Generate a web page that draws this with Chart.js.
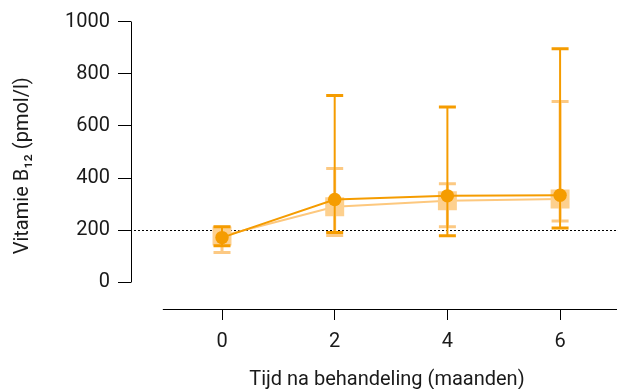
<!DOCTYPE html>
<html><head><meta charset="utf-8">
<style>html,body{margin:0;padding:0;background:#fff;overflow:hidden}canvas{display:block}</style>
<script src="https://cdn.jsdelivr.net/npm/chart.js@4.4.0/dist/chart.umd.min.js"></script>
</head><body><canvas id="c" width="617" height="389" style="width:617px;height:389px"></canvas>
<script>
const months = [0, 2, 4, 6];
const darkMean = [172, 318, 332, 334];
const darkLow = [141, 192, 179, 209];
const darkHigh = [214, 716, 672, 896];
const lightMean = [178, 290, 313, 320];
const lightLow = [115, 180, 214, 236];
const lightHigh = [212, 437, 378, 693];
const yTicks = [0, 200, 400, 600, 800, 1000];
const xTicks = [0, 2, 4, 6];
const refLine = 200;
const xTitle = 'Tijd na behandeling (maanden)';

const DARK = '#f59c00';
const LIGHT_FILL = '#fdd08e';
const LIGHT_LINE = '#fdc87e';
const LIGHT_ERR = '#fcc983';

Chart.defaults.font.family = 'Roboto';
Chart.defaults.font.size = 20;
Chart.defaults.color = '#1a1a1a';

const errorBars = {
  id: 'errorBars',
  beforeDatasetDraw(chart, args) {
    const ds = chart.data.datasets[args.index];
    if (!ds.errLow) return;
    const ctx = chart.ctx, xs = chart.scales.x, ys = chart.scales.y;
    ctx.save();
    ctx.strokeStyle = ds.errColor;
    months.forEach((m, i) => {
      const px = xs.getPixelForValue(m);
      const yl = ys.getPixelForValue(ds.errLow[i]);
      const yh = ys.getPixelForValue(ds.errHigh[i]);
      ctx.lineWidth = ds.errLineWidth;
      ctx.beginPath(); ctx.moveTo(px, yl); ctx.lineTo(px, yh); ctx.stroke();
      ctx.lineWidth = 3;
      ctx.beginPath();
      ctx.moveTo(px - 8.5, yl); ctx.lineTo(px + 8.5, yl);
      ctx.moveTo(px - 8.5, yh); ctx.lineTo(px + 8.5, yh);
      ctx.stroke();
    });
    ctx.restore();
  }
};

const axesAndRef = {
  id: 'axesAndRef',
  beforeDatasetsDraw(chart) {
    const ctx = chart.ctx, xs = chart.scales.x, ys = chart.scales.y, a = chart.chartArea;
    ctx.save();
    ctx.strokeStyle = '#000';
    ctx.lineWidth = 1;
    ctx.setLineDash([2, 2]);
    const ry = Math.round(ys.getPixelForValue(refLine)) + 0.5;
    ctx.beginPath(); ctx.moveTo(a.left + 3, ry); ctx.lineTo(chart.width, ry); ctx.stroke();
    ctx.setLineDash([]);
    const ax = Math.round(a.left) + 0.5;
    ctx.beginPath();
    ctx.moveTo(ax, ys.getPixelForValue(yTicks[0]));
    ctx.lineTo(ax, ys.getPixelForValue(yTicks[yTicks.length - 1]));
    ctx.stroke();
    const ay = Math.round(a.bottom) - 0.5;
    const x0 = xs.getPixelForValue(-1.05);
    ctx.beginPath();
    ctx.moveTo(x0, ay);
    ctx.lineTo(chart.width, ay);
    ctx.stroke();
    ctx.fillStyle = '#1a1a1a';
    ctx.font = '20px Roboto';
    ctx.textAlign = 'center';
    ctx.textBaseline = 'alphabetic';
    ctx.fillText(xTitle, (x0 + chart.width) / 2 - 3, 385);
    ctx.restore();
  }
};

new Chart(document.getElementById('c'), {
  type: 'line',
  data: {
    datasets: [
      {
        data: months.map((m, i) => ({x: m, y: darkMean[i]})),
        borderColor: DARK, backgroundColor: DARK, borderWidth: 2,
        pointStyle: 'circle', pointRadius: 6.7, pointBorderWidth: 0,
        pointBackgroundColor: DARK,
        errLow: darkLow, errHigh: darkHigh, errColor: DARK, errLineWidth: 2
      },
      {
        data: months.map((m, i) => ({x: m, y: lightMean[i]})),
        borderColor: LIGHT_LINE, backgroundColor: LIGHT_FILL, borderWidth: 2,
        pointStyle: 'rect', pointRadius: 13.4, pointBorderWidth: 0,
        pointBackgroundColor: LIGHT_FILL,
        errLow: lightLow, errHigh: lightHigh, errColor: LIGHT_ERR, errLineWidth: 3
      }
    ]
  },
  options: {
    responsive: false, maintainAspectRatio: false, animation: false,
    devicePixelRatio: 1,
    layout: {autoPadding: false, padding: {top: 21.5, left: 0, right: 0, bottom: 0}},
    plugins: {legend: {display: false}, tooltip: {enabled: false}},
    scales: {
      x: {
        type: 'linear', min: -1.615, max: 7.01,
        afterBuildTicks: s => { s.ticks = xTicks.map(v => ({value: v})); },
        afterFit: s => { s.height = 79; s.paddingLeft = 0; s.paddingRight = 0; },
        border: {display: false},
        grid: {display: true, drawOnChartArea: false, drawTicks: true, tickLength: 10, color: '#000', lineWidth: 1},
        ticks: {padding: 10, maxRotation: 0, color: '#1a1a1a', callback: v => String(v)},
        title: {display: false}
      },
      y: {
        type: 'linear', min: -105.4, max: 1000,
        afterBuildTicks: s => { s.ticks = yTicks.map(v => ({value: v})); },
        afterFit: s => { s.width = 131; },
        border: {display: false},
        grid: {display: true, drawOnChartArea: false, drawTicks: true, tickLength: 13, color: '#000', lineWidth: 1},
        ticks: {padding: 8, color: '#1a1a1a', callback: v => String(v)},
        title: {display: true, text: 'Vitamie B\u2081\u2082 (pmol/l)', padding: {top: 11, bottom: 0}, color: '#1a1a1a'}
      }
    }
  },
  plugins: [errorBars, axesAndRef]
});
</script></body></html>
